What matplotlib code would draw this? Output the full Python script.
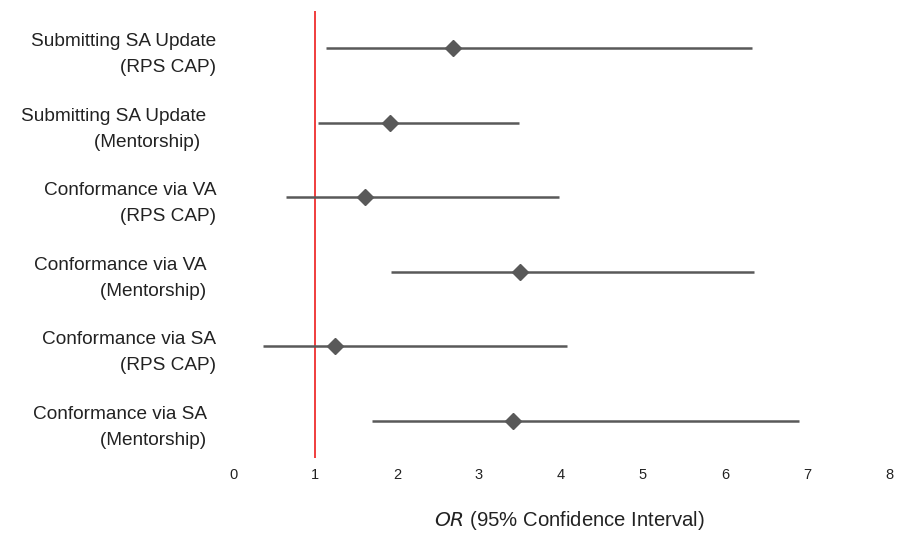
import matplotlib
matplotlib.use("Agg")
import matplotlib.pyplot as plt

labels = [
    "Submitting SA Update\n(RPS CAP)",
    "Submitting SA Update  \n(Mentorship)   ",
    "Conformance via VA\n(RPS CAP)",
    "Conformance via VA  \n(Mentorship)  ",
    "Conformance via SA\n(RPS CAP)",
    "Conformance via SA  \n(Mentorship)  ",
]
odds_ratio = [2.68, 1.92, 1.61, 3.50, 1.24, 3.41]
ci_lower = [1.14, 1.04, 0.65, 1.93, 0.37, 1.69]
ci_upper = [6.33, 3.49, 3.97, 6.35, 4.07, 6.90]
xticks = [0, 1, 2, 3, 4, 5, 6, 7, 8]

plt.rcParams['font.family'] = ['Liberation Sans', 'DejaVu Sans']

fig = plt.figure(figsize=(9.08, 5.33), dpi=100)
ax = fig.add_axes([233/908, 1 - 458/533, (889-233)/908, (458-11)/533])

ypos = list(range(len(labels)))
gray = '#595959'
ax.hlines(ypos, ci_lower, ci_upper, color=gray, lw=1.8, zorder=2)
ax.plot(odds_ratio, ypos, linestyle='none', marker='D', markersize=8,
        color=gray, zorder=3)
ax.axvline(1, color='#ee1c1c', lw=1.2, zorder=1)

ax.set_xlim(0, 8)
ax.set_ylim(len(labels) - 0.5, -0.5)
ax.set_xticks(xticks)
ax.set_xticklabels([str(t) for t in xticks], fontsize=10.5, color='#222222')
ax.set_yticks(ypos)
ax.set_yticklabels(labels, fontsize=13.7, color='#222222', linespacing=1.7)
ax.tick_params(axis='both', length=0)
ax.tick_params(axis='x', pad=7)
ax.tick_params(axis='y', pad=12)
for s in ax.spines.values():
    s.set_visible(False)

ax.set_xlabel(r"$\it{OR}$ (95% Confidence Interval)", fontsize=14.6, color='#222222')
ax.xaxis.label.set_va('center')
ax.xaxis.set_label_coords(0.512, (458 - 521) / 447)

fig.savefig("out.png", dpi=100)
